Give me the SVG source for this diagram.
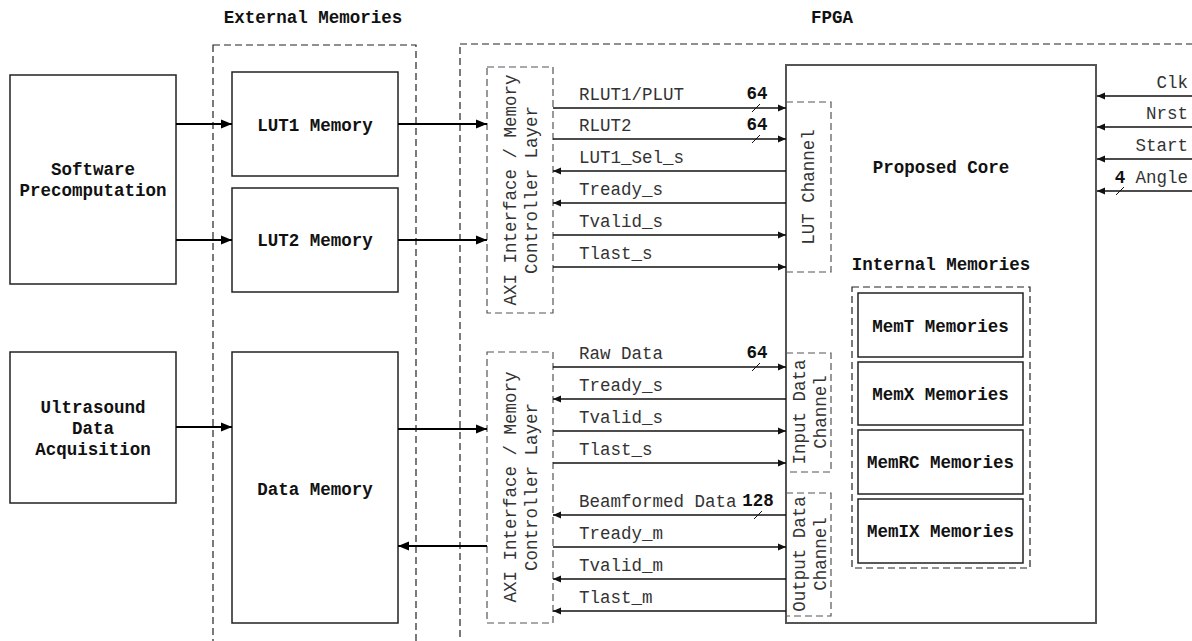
<svg xmlns="http://www.w3.org/2000/svg" width="1192" height="641" viewBox="0 0 1192 641">
<defs>
<style>
text{font-family:"Liberation Mono","Courier New",monospace;font-size:17.5px;fill:#333}
.b{font-weight:bold;fill:#111}
.c{text-anchor:middle}
.e{text-anchor:end}
.box{fill:#fff;stroke:#222;stroke-width:1.5}
.core{fill:#fff;stroke:#555;stroke-width:2}
.dash{fill:none;stroke:#222;stroke-width:1.2;stroke-dasharray:7 4}
.dashg{fill:none;stroke:#555;stroke-width:1.2;stroke-dasharray:7 4}
.thick{stroke:#000;stroke-width:2;fill:none;marker-end:url(#ahb)}
.sig{stroke:#111;stroke-width:1.3;fill:none;marker-end:url(#ah)}
.sl{stroke:#111;stroke-width:1;fill:none}
</style>
<marker id="ahb" markerUnits="userSpaceOnUse" markerWidth="12" markerHeight="10" refX="11" refY="5" orient="auto"><path d="M0,0.5 L11,5 L0,9.5 z" fill="#000"/></marker>
<marker id="ah" markerUnits="userSpaceOnUse" markerWidth="9" markerHeight="8" refX="8" refY="4" orient="auto"><path d="M0,0.5 L8,4 L0,7.5 z" fill="#111"/></marker>
</defs>
<rect width="1192" height="641" fill="#fff"/>

<g id="titles">
<text class="b c" x="313" y="23">External Memories</text>
<text class="b c" x="832" y="23">FPGA</text>
</g>

<g id="external-memories-region"><rect class="dash" x="213" y="45" width="203" height="620"/></g>
<g id="fpga-region"><rect class="dash" x="460" y="44" width="760" height="620"/></g>

<g id="software-precomputation">
<rect class="box" x="10" y="75" width="166" height="209"/>
<text class="b c" x="93" y="175">Software</text>
<text class="b c" x="93" y="196">Precomputation</text>
</g>
<g id="ultrasound-acquisition">
<rect class="box" x="10" y="352" width="166" height="151"/>
<text class="b c" x="93" y="413">Ultrasound</text>
<text class="b c" x="93" y="434">Data</text>
<text class="b c" x="93" y="455">Acquisition</text>
</g>
<g id="lut1-memory">
<rect class="box" x="232" y="72" width="166" height="104"/>
<text class="b c" x="315" y="131">LUT1 Memory</text>
</g>
<g id="lut2-memory">
<rect class="box" x="232" y="188" width="166" height="104"/>
<text class="b c" x="315" y="246">LUT2 Memory</text>
</g>
<g id="data-memory">
<rect class="box" x="232" y="352" width="166" height="271"/>
<text class="b c" x="315" y="495">Data Memory</text>
</g>

<g id="axi-layer-1">
<rect class="dashg" x="487" y="67" width="66" height="246"/>
<text class="c" transform="translate(510,190) rotate(-90)" dy="0.35em">AXI Interface / Memory</text>
<text class="c" transform="translate(531,190) rotate(-90)" dy="0.35em">Controller Layer</text>
</g>
<g id="axi-layer-2">
<rect class="dashg" x="487" y="352" width="66" height="271"/>
<text class="c" transform="translate(510,487) rotate(-90)" dy="0.35em">AXI Interface / Memory</text>
<text class="c" transform="translate(531,487) rotate(-90)" dy="0.35em">Controller Layer</text>
</g>

<g id="proposed-core">
<rect class="core" x="786" y="65" width="310" height="558"/>
<text class="b c" x="941" y="173">Proposed Core</text>
<text class="b c" x="941" y="270">Internal Memories</text>
</g>
<g id="lut-channel">
<rect class="dashg" x="786" y="102" width="45" height="170"/>
<text class="c" transform="translate(808,187) rotate(-90)" dy="0.35em">LUT Channel</text>
</g>
<g id="input-data-channel">
<rect class="dashg" x="786" y="353" width="45" height="119"/>
<text class="c" transform="translate(799,412) rotate(-90)" dy="0.35em">Input Data</text>
<text class="c" transform="translate(820,412) rotate(-90)" dy="0.35em">Channel</text>
</g>
<g id="output-data-channel">
<rect class="dashg" x="786" y="493" width="45" height="123"/>
<text class="c" transform="translate(799,554) rotate(-90)" dy="0.35em">Output Data</text>
<text class="c" transform="translate(820,554) rotate(-90)" dy="0.35em">Channel</text>
</g>
<g id="internal-memories">
<rect class="dash" x="852" y="287" width="178" height="281"/>
</g>
<g id="memt"><rect class="box" x="858" y="293" width="165" height="64"/><text class="b c" x="940.5" y="332">MemT Memories</text></g>
<g id="memx"><rect class="box" x="858" y="362" width="165" height="63"/><text class="b c" x="940.5" y="400">MemX Memories</text></g>
<g id="memrc"><rect class="box" x="858" y="430" width="165" height="64"/><text class="b c" x="940.5" y="468">MemRC Memories</text></g>
<g id="memix"><rect class="box" x="858" y="499" width="165" height="64"/><text class="b c" x="940.5" y="537">MemIX Memories</text></g>

<g id="connectors">
<line class="thick" x1="176" y1="124" x2="232" y2="124"/>
<line class="thick" x1="176" y1="240" x2="232" y2="240"/>
<line class="thick" x1="398" y1="124" x2="487" y2="124"/>
<line class="thick" x1="398" y1="240" x2="487" y2="240"/>
<line class="thick" x1="176" y1="427" x2="232" y2="427"/>
<line class="thick" x1="398" y1="429" x2="487" y2="429"/>
<line class="thick" x1="487" y1="546" x2="398" y2="546"/>

<line class="sig" x1="553" y1="108" x2="786" y2="108"/>
<line class="sig" x1="553" y1="139" x2="786" y2="139"/>
<line class="sig" x1="786" y1="171" x2="553" y2="171"/>
<line class="sig" x1="786" y1="203" x2="553" y2="203"/>
<line class="sig" x1="553" y1="235" x2="786" y2="235"/>
<line class="sig" x1="553" y1="267" x2="786" y2="267"/>

<line class="sig" x1="553" y1="367" x2="786" y2="367"/>
<line class="sig" x1="786" y1="399" x2="553" y2="399"/>
<line class="sig" x1="553" y1="431" x2="786" y2="431"/>
<line class="sig" x1="553" y1="463" x2="786" y2="463"/>
<line class="sig" x1="786" y1="515" x2="553" y2="515"/>
<line class="sig" x1="553" y1="547" x2="786" y2="547"/>
<line class="sig" x1="786" y1="579" x2="553" y2="579"/>
<line class="sig" x1="786" y1="611" x2="553" y2="611"/>

<line class="sig" x1="1192" y1="96" x2="1097" y2="96"/>
<line class="sig" x1="1192" y1="127" x2="1097" y2="127"/>
<line class="sig" x1="1192" y1="159" x2="1097" y2="159"/>
<line class="sig" x1="1192" y1="191" x2="1097" y2="191"/>

<line class="sl" x1="752" y1="112" x2="760" y2="104"/>
<line class="sl" x1="752" y1="143" x2="760" y2="135"/>
<line class="sl" x1="752" y1="371" x2="760" y2="363"/>
<line class="sl" x1="754" y1="519" x2="762" y2="511"/>
<line class="sl" x1="1116" y1="195" x2="1124" y2="187"/>

<text x="579" y="100">RLUT1/PLUT</text>
<text x="579" y="131">RLUT2</text>
<text x="579" y="163">LUT1_Sel_s</text>
<text x="579" y="195">Tready_s</text>
<text x="579" y="227">Tvalid_s</text>
<text x="579" y="259">Tlast_s</text>
<text x="579" y="359">Raw Data</text>
<text x="579" y="391">Tready_s</text>
<text x="579" y="423">Tvalid_s</text>
<text x="579" y="455">Tlast_s</text>
<text x="579" y="507">Beamformed Data</text>
<text x="579" y="539">Tready_m</text>
<text x="579" y="571">Tvalid_m</text>
<text x="579" y="603">Tlast_m</text>

<text class="b c" x="757" y="99">64</text>
<text class="b c" x="757" y="130">64</text>
<text class="b c" x="757" y="358">64</text>
<text class="b c" x="758" y="506">128</text>
<text class="b c" x="1120" y="183">4</text>

<text class="e" x="1188" y="88">Clk</text>
<text class="e" x="1188" y="119">Nrst</text>
<text class="e" x="1188" y="151">Start</text>
<text class="e" x="1188" y="183">Angle</text>
</g>
</svg>
